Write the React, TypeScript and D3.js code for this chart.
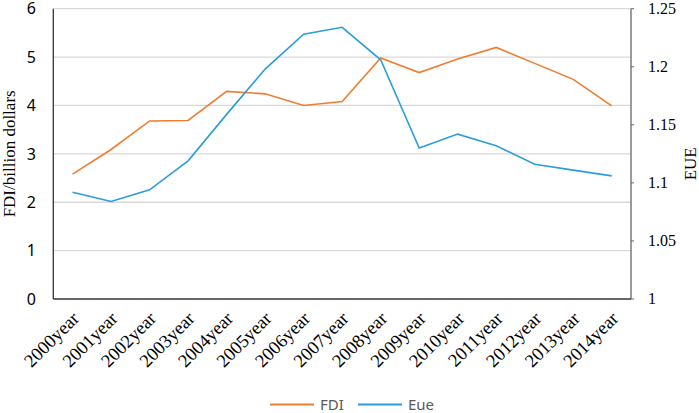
import { useEffect, useRef } from "react";
import { select, scalePoint, scaleLinear, line as d3Line } from "d3";

const years = [
  "2000year", "2001year", "2002year", "2003year", "2004year",
  "2005year", "2006year", "2007year", "2008year", "2009year",
  "2010year", "2011year", "2012year", "2013year", "2014year",
];
const fdi = [2.58, 3.09, 3.68, 3.69, 4.29, 4.24, 4.0, 4.08, 4.98, 4.68, 4.96, 5.2, 4.87, 4.54, 3.99];
const eue = [1.092, 1.084, 1.094, 1.119, 1.159, 1.198, 1.228, 1.234, 1.206, 1.13, 1.142, 1.132, 1.116, 1.111, 1.106];
const leftTicks = [0, 1, 2, 3, 4, 5, 6];
const rightTicks = [1, 1.05, 1.1, 1.15, 1.2, 1.25];

const W = 699;
const H = 413;
const M = { left: 53.3, right: 631, top: 8.7, bottom: 299 };
const FDI_COLOR = "#ED7D31";
const EUE_COLOR = "#2A9DDB";

export default function App() {
  const svgRef = useRef<SVGSVGElement | null>(null);

  useEffect(() => {
    if (!svgRef.current) return;
    const svg = select(svgRef.current);
    svg.selectAll("*").remove();

    const x = scalePoint<string>().domain(years).range([M.left, M.right]).padding(0.5);
    const yL = scaleLinear().domain([0, 6]).range([M.bottom, M.top]);
    const yR = scaleLinear().domain([1, 1.25]).range([M.bottom, M.top]);

    // gridlines follow the left axis
    svg.append("g")
      .selectAll("line")
      .data(leftTicks.filter((d) => d > 0))
      .join("line")
      .attr("x1", M.left)
      .attr("x2", M.right)
      .attr("y1", (d) => yL(d))
      .attr("y2", (d) => yL(d))
      .attr("stroke", "#d9d9d9")
      .attr("stroke-width", 1.3);

    // axis lines
    const axes = svg.append("g").attr("stroke", "#333").attr("stroke-width", 1.3);
    axes.append("line").attr("x1", M.left).attr("x2", M.left).attr("y1", M.top).attr("y2", M.bottom);
    axes.append("line").attr("x1", M.right).attr("x2", M.right).attr("y1", M.top).attr("y2", M.bottom).attr("stroke", "#666");
    axes.append("line").attr("x1", M.left).attr("x2", M.right).attr("y1", M.bottom).attr("y2", M.bottom);

    // right axis small ticks
    svg.append("g")
      .selectAll("line")
      .data(rightTicks)
      .join("line")
      .attr("x1", M.right)
      .attr("x2", M.right + 3)
      .attr("y1", (d) => yR(d))
      .attr("y2", (d) => yR(d))
      .attr("stroke", "#666");

    svg.append("g")
      .selectAll("text")
      .data(leftTicks)
      .join("text")
      .attr("x", 36)
      .attr("y", (d) => yL(d))
      .attr("dy", "0.36em")
      .attr("text-anchor", "end")
      .attr("font-family", "'Noto Sans', sans-serif")
      .attr("font-size", 16)
      .attr("fill", "#000")
      .text((d) => String(d));

    svg.append("g")
      .selectAll("text")
      .data(rightTicks)
      .join("text")
      .attr("x", M.right + 17)
      .attr("y", (d) => yR(d))
      .attr("dy", "0.34em")
      .attr("font-family", "'Liberation Serif', serif")
      .attr("font-size", 16)
      .attr("fill", "#000")
      .text((d) => String(d));

    svg.append("g")
      .selectAll("text")
      .data(years)
      .join("text")
      .attr("transform", (d) => `translate(${(x(d) ?? 0) + 3},${M.bottom + 16}) rotate(-45)`)
      .attr("text-anchor", "end")
      .attr("dy", "0.35em")
      .attr("font-family", "'Liberation Serif', serif")
      .attr("font-size", 18.5)
      .attr("fill", "#000")
      .text((d) => d);

    svg.append("text")
      .attr("transform", `translate(15,${(M.top + M.bottom) / 2}) rotate(-90)`)
      .attr("text-anchor", "middle")
      .attr("font-family", "'Liberation Serif', serif")
      .attr("font-size", 17)
      .text("FDI/billion dollars");

    svg.append("text")
      .attr("transform", `translate(696,${(M.top + M.bottom) / 2 + 10}) rotate(-90)`)
      .attr("text-anchor", "middle")
      .attr("font-family", "'Liberation Serif', serif")
      .attr("font-size", 17)
      .text("EUE");

    const lineL = d3Line<number>()
      .x((_, i) => x(years[i]) ?? 0)
      .y((d) => yL(d));
    const lineR = d3Line<number>()
      .x((_, i) => x(years[i]) ?? 0)
      .y((d) => yR(d));

    svg.append("path")
      .attr("d", lineL(fdi))
      .attr("fill", "none")
      .attr("stroke", FDI_COLOR)
      .attr("stroke-width", 1.6);
    svg.append("path")
      .attr("d", lineR(eue))
      .attr("fill", "none")
      .attr("stroke", EUE_COLOR)
      .attr("stroke-width", 1.6);

    // legend
    const legend = [
      { name: "FDI", color: FDI_COLOR, x0: 270 },
      { name: "Eue", color: EUE_COLOR, x0: 358 },
    ];
    const lg = svg.append("g");
    legend.forEach((l) => {
      lg.append("line")
        .attr("x1", l.x0)
        .attr("x2", l.x0 + 44)
        .attr("y1", 404.5)
        .attr("y2", 404.5)
        .attr("stroke", l.color)
        .attr("stroke-width", 1.8);
      lg.append("text")
        .attr("x", l.x0 + 50)
        .attr("y", 404.5)
        .attr("dy", "0.36em")
        .attr("font-family", "'Noto Sans', sans-serif")
        .attr("font-size", 15)
        .attr("fill", "#595959")
        .text(l.name);
    });
  }, []);

  return (
    <svg
      ref={svgRef}
      width={W}
      height={H}
      style={{ position: "absolute", left: 0, top: 0, background: "#fff" }}
    />
  );
}
